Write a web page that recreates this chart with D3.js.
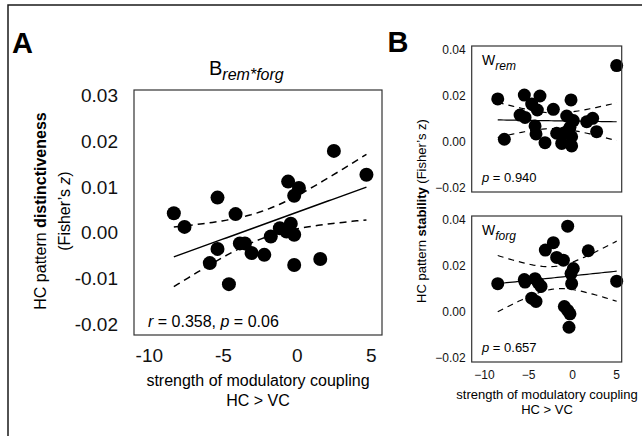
<!DOCTYPE html>
<html>
<head>
<meta charset="utf-8">
<script src="https://cdn.jsdelivr.net/npm/d3@7"></script>
<style>
  body { margin: 0; background: #fff; }
  svg { display: block; font-family: "Liberation Sans", Arial, sans-serif; }
</style>
</head>
<body>
<svg></svg>
<script>
// panel A: B rem*forg, coupling strength vs distinctiveness
const couplingA = [2.5, 4.7, -0.59, 0.14, -0.18, -5.36, -8.31, -4.14, -7.59, -0.41, -1.15, -0.7,
  -0.18, -1.76, -5.36, -3.85, -3.51, -3.06, -2.2, -5.88, -0.18, 1.58, -4.59];
const distinctA = [0.0179, 0.0127, 0.0112, 0.0098, 0.0081, 0.0077, 0.0043, 0.0041, 0.0013, 0.0020, 0.0010, 0.0003,
  -0.0004, -0.0008, -0.0035, -0.0023, -0.0023, -0.0044, -0.0048, -0.0066, -0.0070, -0.0057, -0.0112];

// panel B top: W rem
const couplingRem = [5.08, -8.44, -7.69, -5.42, -3.64, -4.58, -3.94, -2.12, -0.11, -5.9, -5.34, -4.2, -4.09,
  -3.07, -1.74, -0.6, 0.15, -0.6, -0.98, -0.04, -1.17, -0.04, 1.67, 2.35, 2.8, -0.23];
const stabilityRem = [0.0332, 0.0187, 0.0012, 0.0204, 0.0200, 0.0165, 0.0139, 0.0142, 0.0183, 0.0117, 0.0107, 0.0070, 0.0035,
  -0.0003, 0.0038, 0.0113, 0.0093, 0.0045, 0.0038, 0.0023, -0.0006, -0.0017, 0.0088, 0.0103, 0.0045, 0.0064];

// panel B bottom: W forg
const couplingForg = [-8.44, -5.42, -5.34, -4.2, -3.83, -3.52, -4.58, -4.09, -3.03, -2.12, -1.74, -0.98,
  -0.49, 0.15, -0.11, -0.04, 1.85, 5.08, -0.87, -0.49, -0.23, -0.34];
const stabilityForg = [0.0123, 0.0141, 0.0130, 0.0145, 0.0126, 0.0111, 0.0060, 0.0046, 0.0269, 0.0301, 0.0237, 0.0225,
  0.0373, 0.0189, 0.0167, 0.0123, 0.0266, 0.0134, 0.0024, 0.0007, -0.0008, -0.0066];

// fitted lines: [intercept, slope] per panel (A, rem, forg)
const fitA = [0.00449, 0.00117];
const fitRem = [0.0091, -0.00006];
const fitForg = [0.0157, 0.0004];

const ticksAx = [-10, -5, 0, 5];
const ticksAy = [-0.02, -0.01, 0.00, 0.01, 0.02, 0.03];
const ticksBx = [-10, -5, 0, 5];
const ticksBy = [-0.02, 0.00, 0.02, 0.04];

const statRem = "0.940";
const statForg = "0.657";

const svg = d3.select("svg")
    .attr("width", 642)
    .attr("height", 436);

// outer frame (top and left edges only visible)
svg.append("path")
    .attr("d", "M8,436V5H642")
    .attr("fill", "none")
    .attr("stroke", "#1a1a1a")
    .attr("stroke-width", 1.5);

const hyphen = d3.formatLocale({decimal: ".", thousands: ",", grouping: [3], currency: ["", ""], minus: "-"});

// fitted line with 95% band around it
function fitLine(xs, ys, coef, tq) {
  const n = xs.length;
  const [a, b] = coef;
  const mx = d3.mean(xs);
  const sxx = d3.sum(xs, x => (x - mx) ** 2);
  const sse = d3.sum(xs, (x, i) => (ys[i] - a - b * x) ** 2);
  const s = Math.sqrt(sse / (n - 2));
  const [lo, hi] = d3.extent(xs);
  return d3.range(0, 41).map(k => {
    const x = lo + (hi - lo) * k / 40;
    const yh = a + b * x;
    const se = s * Math.sqrt(1 / n + (x - mx) ** 2 / sxx);
    return {x: x, y: yh, lo: yh - tq * se, hi: yh + tq * se};
  });
}

function drawPanel(cfg) {
  const g = svg.append("g");
  const x = cfg.x, y = cfg.y;
  const [x0, x1] = x.range(), [y1, y0] = y.range();

  g.append("g")
      .attr("transform", `translate(${x0},0)`)
      .call(d3.axisLeft(y).tickValues(cfg.yTicks).tickFormat(cfg.yFormat).tickSize(0).tickPadding(cfg.yPad))
      .call(a => a.select(".domain").remove())
      .selectAll("text")
      .attr("font-family", null)
      .attr("font-size", cfg.tickSize)
      .attr("fill", "#111");

  g.append("g")
      .attr("transform", `translate(0,${y1})`)
      .call(d3.axisBottom(x).tickValues(cfg.xTicks).tickFormat(cfg.xFormat).tickSize(0).tickPadding(cfg.xPad))
      .call(a => a.select(".domain").remove())
      .selectAll("text")
      .attr("font-family", null)
      .attr("font-size", cfg.tickSize)
      .attr("fill", "#111");

  const fit = fitLine(cfg.xs, cfg.ys, cfg.coef, cfg.tq);

  g.append("path")
      .datum(fit)
      .attr("d", d3.line().x(d => x(d.x)).y(d => y(d.y)))
      .attr("fill", "none").attr("stroke", "#000").attr("stroke-width", cfg.lw);
  ["lo", "hi"].forEach(k => {
    g.append("path")
        .datum(fit)
        .attr("d", d3.line().x(d => x(d.x)).y(d => y(d[k])))
        .attr("fill", "none").attr("stroke", "#000").attr("stroke-width", cfg.lw)
        .attr("stroke-dasharray", cfg.dash);
  });

  g.selectAll("circle")
      .data(cfg.xs.map((v, i) => [v, cfg.ys[i]]))
      .enter().append("circle")
      .attr("cx", d => x(d[0]))
      .attr("cy", d => y(d[1]))
      .attr("r", cfg.r)
      .attr("fill", "#000");

  g.append("rect")
      .attr("x", x0).attr("y", y0)
      .attr("width", x1 - x0).attr("height", y1 - y0)
      .attr("fill", "none").attr("stroke", "#333").attr("stroke-width", 1.2);
  return g;
}

// ---- panel A ----
const xA = d3.scaleLinear().domain([-11, 5.75]).range([134, 382]);
const yA = d3.scaleLinear().domain([-0.0223, 0.0312]).range([335, 90]);
drawPanel({
  x: xA, y: yA, xs: couplingA, ys: distinctA, coef: fitA, tq: 2.08,
  xTicks: ticksAx, yTicks: ticksAy,
  xFormat: hyphen.format("d"), yFormat: hyphen.format(".2f"),
  tickSize: 19, yPad: 16, xPad: 14, r: 7, lw: 1.5, dash: "7,5"
});

svg.append("text").attr("x", 12).attr("y", 53)
    .attr("font-size", 29).attr("font-weight", "bold").text("A");

const titleA = svg.append("text").attr("x", 209).attr("y", 75).attr("font-size", 20);
titleA.append("tspan").text("B");
titleA.append("tspan").attr("dy", 5).attr("font-size", 16).attr("font-style", "italic").text("rem*forg");

const stA = svg.append("text").attr("x", 148).attr("y", 327).attr("font-size", 16);
stA.append("tspan").attr("font-style", "italic").text("r");
stA.append("tspan").text(" = 0.358, ");
stA.append("tspan").attr("font-style", "italic").text("p");
stA.append("tspan").text(" = 0.06");

svg.append("text").attr("x", 258).attr("y", 386).attr("text-anchor", "middle")
    .attr("font-size", 16).text("strength of modulatory coupling");
svg.append("text").attr("x", 258).attr("y", 406).attr("text-anchor", "middle")
    .attr("font-size", 16).text("HC > VC");

const ytA = svg.append("text").attr("transform", "translate(46,211) rotate(-90)")
    .attr("text-anchor", "middle").attr("font-size", 16);
ytA.append("tspan").text("HC pattern ");
ytA.append("tspan").attr("font-weight", "bold").text("distinctiveness");
const ytA2 = svg.append("text").attr("transform", "translate(70,211) rotate(-90)")
    .attr("text-anchor", "middle").attr("font-size", 16);
ytA2.append("tspan").text("(Fisher\u2019s ");
ytA2.append("tspan").attr("font-style", "italic").text("z");
ytA2.append("tspan").text(")");

// ---- panel B ----
const xB = d3.scaleLinear().domain([-11.4, 5.65]).range([471.7, 621.7]);
const yRem = d3.scaleLinear().domain([-0.0217, 0.0417]).range([192, 46]);
const yForg = d3.scaleLinear().domain([-0.0217, 0.0417]).range([362, 216]);

const panelsB = [
  {y: yRem, xs: couplingRem, ys: stabilityRem, coef: fitRem, name: "rem", p: statRem},
  {y: yForg, xs: couplingForg, ys: stabilityForg, coef: fitForg, name: "forg", p: statForg}
];

panelsB.forEach(pb => {
  drawPanel({
    x: xB, y: pb.y, xs: pb.xs, ys: pb.ys, coef: pb.coef, tq: 2.07,
    xTicks: pb.name === "forg" ? ticksBx : [], yTicks: ticksBy,
    xFormat: d3.format("d"), yFormat: d3.format(".2f"),
    tickSize: 12, yPad: 6, xPad: 8, r: 6.5, lw: 1.2, dash: "6,5"
  });
  const top = pb.y.range()[1], bot = pb.y.range()[0];
  const w = svg.append("text").attr("x", 482).attr("y", top + 19).attr("font-size", 14);
  w.append("tspan").text("W");
  w.append("tspan").attr("dy", 5).attr("font-size", 12).attr("font-style", "italic").text(pb.name);
  const pt = svg.append("text").attr("x", 482).attr("y", bot - 10).attr("font-size", 13);
  pt.append("tspan").attr("font-style", "italic").text("p");
  pt.append("tspan").text(" = " + pb.p);
});

svg.append("text").attr("x", 398).attr("y", 52).attr("text-anchor", "middle")
    .attr("font-size", 29).attr("font-weight", "bold").text("B");

svg.append("text").attr("x", 547).attr("y", 399).attr("text-anchor", "middle")
    .attr("font-size", 13).text("strength of modulatory coupling");
svg.append("text").attr("x", 547).attr("y", 414).attr("text-anchor", "middle")
    .attr("font-size", 13).text("HC > VC");

const ytB = svg.append("text").attr("transform", "translate(426,211) rotate(-90)")
    .attr("text-anchor", "middle").attr("font-size", 13);
ytB.append("tspan").text("HC pattern ");
ytB.append("tspan").attr("font-weight", "bold").text("stability");
ytB.append("tspan").text(" (Fisher\u2019s z)");
</script>
</body>
</html>
